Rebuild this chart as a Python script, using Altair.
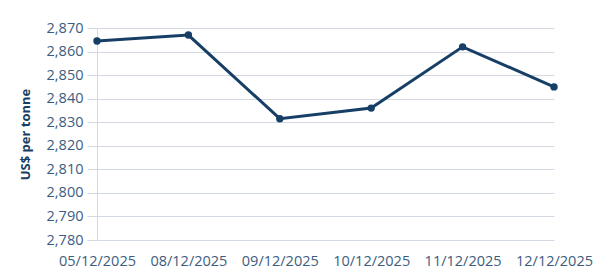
import altair as alt
import pandas as pd

dates = ["05/12/2025", "08/12/2025", "09/12/2025", "10/12/2025", "11/12/2025", "12/12/2025"]
prices = [2864.5, 2867, 2831.5, 2836, 2862, 2845]
y_ticks = [2780, 2790, 2800, 2810, 2820, 2830, 2840, 2850, 2860, 2870]

df = pd.DataFrame({"date": dates, "price": prices})

navy = "#173f66"
label_col = "#3d5d80"
grid_col = "#d3d9e2"
font = "Open Sans"

base = alt.Chart(df).encode(
    x=alt.X("date:N", sort=dates, title=None,
            scale=alt.Scale(type="point", padding=0),
            axis=alt.Axis(labelAngle=0, labelFontSize=14.5, labelColor=label_col, labelFont=font,
                          domain=False, ticks=False, grid=False, labelPadding=14)),
    y=alt.Y("price:Q", title="US$ per tonne",
            scale=alt.Scale(domain=[2780, 2870], nice=False, zero=False),
            axis=alt.Axis(values=y_ticks, format=",d", labelFontSize=14.5, labelColor=label_col,
                          labelFont=font, titleFont=font, titleFontSize=13, titleFontWeight="bold",
                          titleColor=navy, titlePadding=14, domain=True, domainColor=grid_col,
                          ticks=True, tickColor=grid_col, tickSize=10, gridColor=grid_col,
                          labelPadding=4)),
)

line = base.mark_line(color=navy, strokeWidth=3)
pts = base.mark_circle(color=navy, size=55, opacity=1)

chart = (line + pts).properties(
    width=457, height=212,
    autosize=alt.AutoSizeParams(type="none"),
    padding={"left": 97, "top": 28, "right": 53, "bottom": 34},
).configure_view(stroke=None)

chart.save("out.html", embed_options={"renderer": "svg", "actions": False})
